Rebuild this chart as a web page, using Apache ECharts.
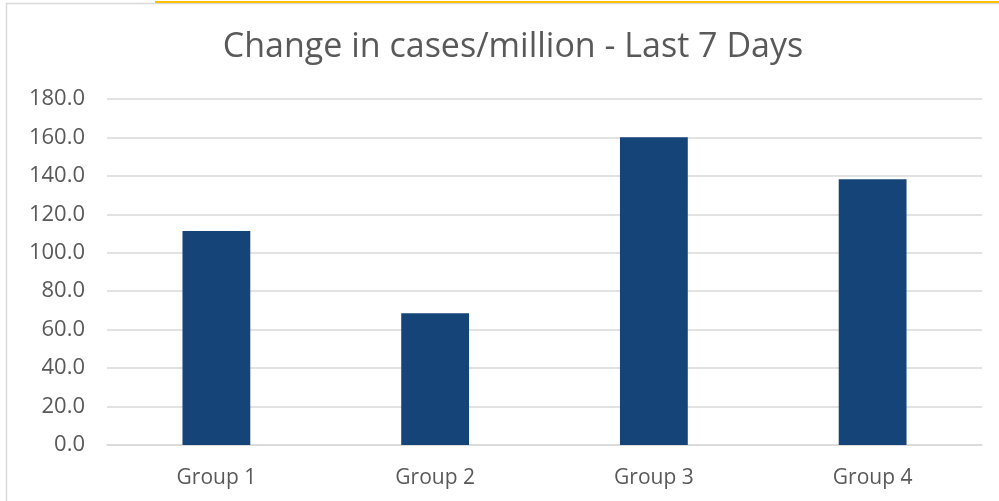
<!DOCTYPE html>
<html>
<head>
<meta charset="utf-8">
<script src="https://cdn.jsdelivr.net/npm/echarts@6/dist/echarts.min.js"></script>
<style>
  html, body { margin: 0; padding: 0; background: #fff; }
  #chart { width: 999px; height: 501px; }
</style>
</head>
<body>
<div id="chart"></div>
<script>
const categories = ["Group 1", "Group 2", "Group 3", "Group 4"];
const changeValues = [111.3, 68.5, 160.1, 138.2];

const myChart = echarts.init(document.getElementById("chart"));
const textColor = "#595959";

const option = {
  animation: false,
  title: {
    text: "Change in cases/million - Last 7 Days",
    left: 508,
    top: 25,
    textAlign: "center",
    textStyle: {
      color: textColor,
      fontFamily: "Open Sans",
      fontWeight: "normal",
      fontSize: 34
    }
  },
  grid: {
    left: 107,
    right: 17,
    top: 99,
    bottom: 56,
    containLabel: false
  },
  xAxis: {
    type: "category",
    data: categories,
    axisLine: { show: true, lineStyle: { color: "#d9d9d9", width: 1.5 } },
    axisTick: { show: false },
    axisLabel: {
      color: textColor,
      fontFamily: "Open Sans",
      fontSize: 21,
      margin: 23
    }
  },
  yAxis: {
    type: "value",
    min: 0,
    max: 180,
    interval: 20,
    axisLine: { show: false },
    axisTick: { show: false },
    splitLine: { lineStyle: { color: "#d9d9d9", width: 1.5 } },
    axisLabel: {
      color: textColor,
      fontFamily: "Open Sans",
      fontSize: 22,
      margin: 22,
      formatter: (v) => v.toFixed(1)
    }
  },
  series: [
    {
      type: "bar",
      data: changeValues,
      barWidth: "31%",
      itemStyle: { color: "#154578" }
    }
  ],
  graphic: [
    {
      type: "rect",
      shape: { x: 6.5, y: 3.5, width: 1000, height: 520 },
      style: { fill: "none", stroke: "#d9d9d9", lineWidth: 1.5 },
      z: -1
    },
    {
      type: "line",
      shape: { x1: 155, y1: 2, x2: 999, y2: 2 },
      style: { stroke: "#ffc000", lineWidth: 2 }
    }
  ]
};

myChart.setOption(option);
</script>
</body>
</html>
